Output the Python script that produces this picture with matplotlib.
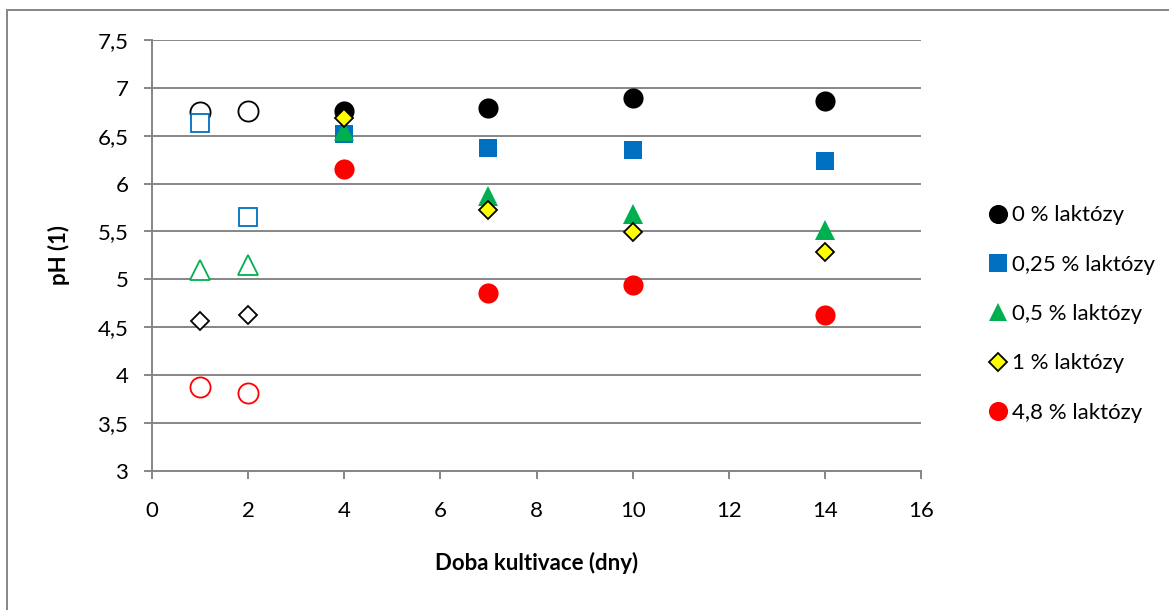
import matplotlib.pyplot as plt
from matplotlib.lines import Line2D
from matplotlib.patches import Rectangle
from matplotlib.ticker import FuncFormatter, MultipleLocator

plt.rcParams.update({"font.family": ["Lato", "DejaVu Sans"], "font.size": 16})

# cultivation days; the first N_EARLY samples are drawn as hollow markers
days = [1, 2, 4, 7, 10, 14]
N_EARLY = 2

ph_0 = [6.75, 6.76, 6.76, 6.79, 6.89, 6.86]
ph_025 = [6.63, 5.65, 6.52, 6.37, 6.35, 6.24]
ph_05 = [5.10, 5.15, 6.55, 5.87, 5.68, 5.52]
ph_1 = [4.57, 4.63, 6.69, 5.72, 5.49, 5.29]
ph_48 = [3.88, 3.81, 6.15, 4.86, 4.94, 4.63]

labels = ["0 % laktózy", "0,25 % laktózy", "0,5 % laktózy", "1 % laktózy", "4,8 % laktózy"]

# (values, marker, size, face colour, edge colour, hollow-edge colour)
series = [
    (ph_0, "o", 14.5, "#000000", "#000000", "#000000"),
    (ph_025, "s", 13.5, "#0070C0", "#0070C0", "#0070C0"),
    (ph_05, "^", 14, "#00B050", "#00B050", "#00B050"),
    (ph_1, "D", 9.5, "#FFFF00", "#000000", "#000000"),
    (ph_48, "o", 14.5, "#FF0000", "#FF0000", "#FF0000"),
]

fig = plt.figure(figsize=(11.69, 6.10), dpi=100)
ax = fig.add_axes([0.130, 0.228, 0.658, 0.7065])

handles = []
for (vals, mk, ms, fc, ec, hc), lab in zip(series, labels):
    ax.plot(days[:N_EARLY], vals[:N_EARLY], ls="none", marker=mk, ms=ms,
            mfc="white", mec=hc, mew=1.3, zorder=3)
    ax.plot(days[N_EARLY:], vals[N_EARLY:], ls="none", marker=mk, ms=ms,
            mfc=fc, mec=ec, mew=1.3 if ec != fc else 0, zorder=3)
    handles.append(Line2D([], [], ls="none", marker=mk, ms=ms * 0.95, mfc=fc,
                          mec=ec, mew=1.3 if ec != fc else 0, label=lab))

ax.set_xlim(0, 16)
ax.set_ylim(3, 7.5)
ax.xaxis.set_major_locator(MultipleLocator(2))
ax.yaxis.set_major_locator(MultipleLocator(0.5))
ax.yaxis.set_major_formatter(FuncFormatter(lambda v, p: f"{v:g}".replace(".", ",")))

grey = "#868686"
ax.grid(axis="y", color=grey, lw=1.4)
ax.set_axisbelow(True)
for s in ["top", "right"]:
    ax.spines[s].set_visible(False)
for s in ["left", "bottom"]:
    ax.spines[s].set_color(grey)
    ax.spines[s].set_linewidth(1.4)
ax.tick_params(axis="both", direction="out", length=6, width=1.4, color=grey)
ax.tick_params(axis="y", pad=11)
ax.tick_params(axis="x", pad=16)

ax.set_xlabel("Doba kultivace (dny)", fontweight="bold", labelpad=22)
ax.set_ylabel("pH (1)", fontweight="bold", labelpad=20)

fig.legend(handles=handles, loc="center left", bbox_to_anchor=(0.825, 0.485),
           frameon=False, handletextpad=0.05, labelspacing=1.32, handlelength=1.2)

fig.patches.append(Rectangle((7 / 1169, -0.05), 1.2, 1 - 10 / 610 + 0.05,
                             transform=fig.transFigure, fill=False,
                             edgecolor=grey, lw=1.4))

fig.savefig("out.png", dpi=100)
